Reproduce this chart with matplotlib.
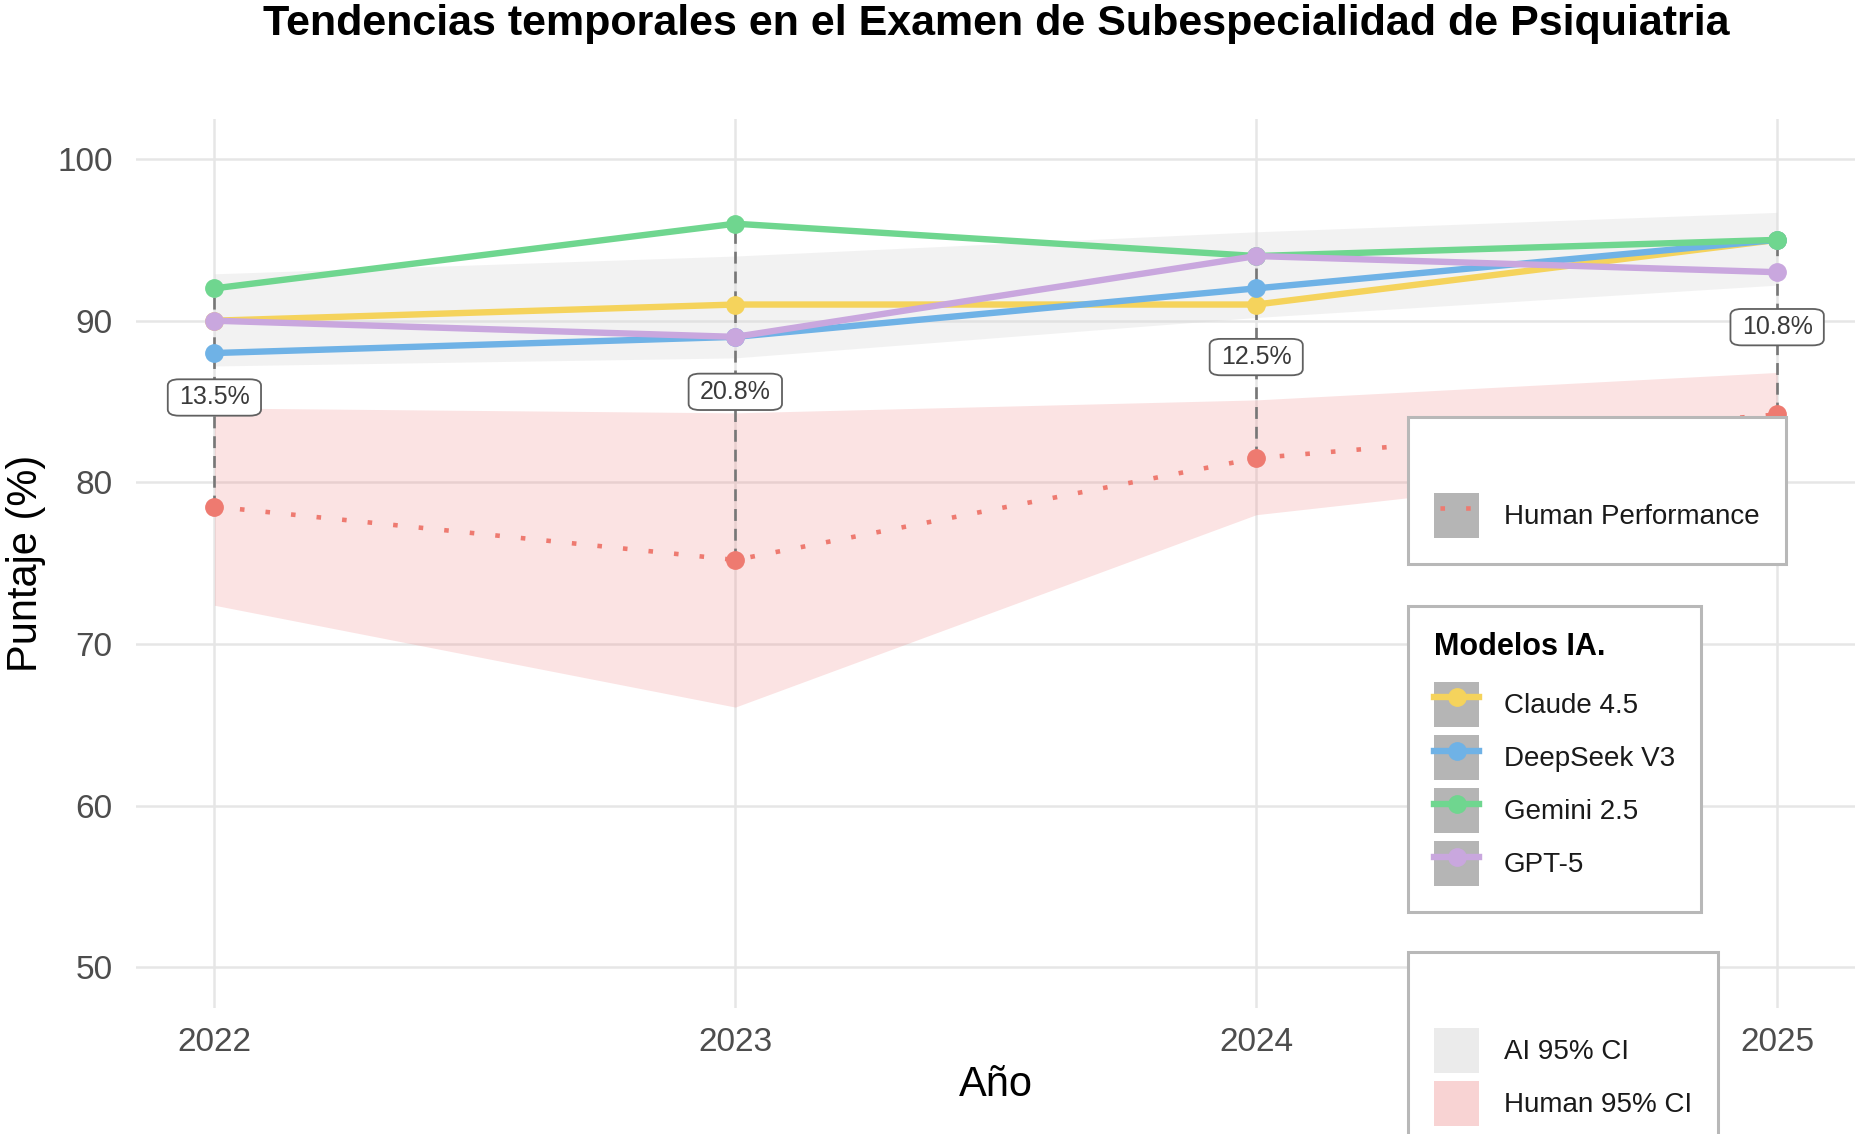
import numpy as np
import matplotlib
matplotlib.use('Agg')
import matplotlib.pyplot as plt
from matplotlib.lines import Line2D
from matplotlib.patches import Patch

plt.rcParams['font.family'] = ['Liberation Sans', 'DejaVu Sans']

# Data
years = [2022, 2023, 2024, 2025]
models = ['Claude 4.5', 'DeepSeek V3', 'Gemini 2.5', 'GPT-5']
claude = [90, 91, 91, 95]
deepseek = [88, 89, 92, 95]
gemini = [92, 96, 94, 95]
gpt5 = [90, 89, 94, 93]
human = [78.5, 75.2, 81.5, 84.2]
human_lo = [72.4, 66.1, 78.0, 81.6]
human_hi = [84.6, 84.3, 85.1, 86.8]
ai_lo = [87.2, 87.7, 90.2, 92.2]
ai_hi = [92.9, 94.0, 95.5, 96.7]

model_scores = [claude, deepseek, gemini, gpt5]
model_colors = ['#F5D35C', '#6FB2E6', '#6FD68F', '#C9A7DE']
human_color = '#EE7A70'

fig = plt.figure(figsize=(18.59, 11.34), dpi=100)
ax = fig.add_axes([0.0733, 0.1113, 0.9247, 0.7841])

# grid / frame, minimal style
for s in ax.spines.values():
    s.set_visible(False)
ax.set_axisbelow(True)
ax.grid(True, color='#e6e6e6', linewidth=1.8, zorder=0)
ax.tick_params(length=0, labelsize=24, labelcolor='#4d4d4d')
ax.tick_params(axis='y', pad=17)
ax.tick_params(axis='x', pad=14)

# confidence bands
ax.fill_between(years, ai_lo, ai_hi, color='#d9d9d9', alpha=0.33,
                linewidth=0, zorder=1)
ax.fill_between(years, human_lo, human_hi, color='#F08080', alpha=0.22,
                linewidth=0, zorder=1)

# gap between best model and humans
best = np.max(np.array(model_scores), axis=0)
for x, b, h in zip(years, best, human):
    ax.plot([x, x], [h, b], color='#777777', linewidth=1.9,
            dashes=(4.5, 3), zorder=2)

# model lines
for scores, color in zip(model_scores, model_colors):
    ax.plot(years, scores, color=color, linewidth=4.6, marker='o',
            markersize=12.5, zorder=3)

# human line
ax.plot(years, human, color=human_color, linewidth=3.3, dashes=(1, 4.6),
        zorder=3)
ax.plot(years, human, color=human_color, linestyle='none', marker='o',
        markersize=12.5, zorder=3)

# gap labels
for x, b, h in zip(years, best, human):
    ax.text(x, (b + h) / 2, '{0:.1f}%'.format(b - h), ha='center',
            va='center', fontsize=18, color='#3a3a3a', zorder=5,
            bbox=dict(boxstyle='round,pad=0.45,rounding_size=0.45',
                      mutation_aspect=0.55, facecolor='white',
                      edgecolor='#606060', linewidth=1.3))

ax.set_xlim(2021.85, 2025.15)
ax.set_ylim(47.5, 102.5)
ax.set_xticks(years)
ax.set_xticklabels([str(y) for y in years])
ax.set_yticks([50, 60, 70, 80, 90, 100])

ax.set_xlabel('Año', fontsize=30)
ax.xaxis.set_label_coords(0.5, -0.0868)
ax.xaxis.label.set_va('center')
ax.set_ylabel('Puntaje (%)', fontsize=30)
ax.yaxis.set_label_coords(-0.0643, 0.5)
ax.yaxis.label.set_va('center')

fig.text(0.5357, 0.979,
         'Tendencias temporales en el Examen de Subespecialidad de Psiquiatria',
         ha='center', va='center', fontsize=31, fontweight='bold')

# legends
key_bg = '#b5b5b5'
leg_kw = dict(loc='upper left', borderaxespad=0, frameon=True, fancybox=False,
              edgecolor='#b8b8b8', framealpha=1, fontsize=20,
              handlelength=1.62, handleheight=2.115, handletextpad=0.88,
              borderpad=0.95, labelspacing=0.29, title_fontsize=22,
              alignment='left')

h1 = [(Patch(facecolor=key_bg, edgecolor='none'),
       Line2D([], [], color=human_color, linewidth=3.3,
              linestyle=(4.3, (1, 4.6))))]
leg1 = fig.legend(h1, ['Human Performance'], title=' ',
                  bbox_to_anchor=(0.7574, 0.6323), **leg_kw)

h2 = [(Patch(facecolor=key_bg, edgecolor='none'),
       Line2D([], [], color=c, linewidth=4.6, marker='o', markersize=12.5))
      for c in model_colors]
leg2 = fig.legend(h2, models, title='Modelos IA.',
                  bbox_to_anchor=(0.7574, 0.4656), **leg_kw)
leg2.get_title().set_fontweight('bold')

h3 = [Patch(facecolor='#ebebeb', edgecolor='none'),
      Patch(facecolor='#f8d3d3', edgecolor='none')]
leg3 = fig.legend(h3, ['AI 95% CI', 'Human 95% CI'], title=' ',
                  bbox_to_anchor=(0.7574, 0.1605), **leg_kw)

for lg in (leg1, leg2, leg3):
    lg.get_frame().set_linewidth(2.2)
    lg._legend_box.sep = 14
    for t in lg.get_texts():
        t.set_color('#1a1a1a')

fig.savefig('out.png', dpi=100)
